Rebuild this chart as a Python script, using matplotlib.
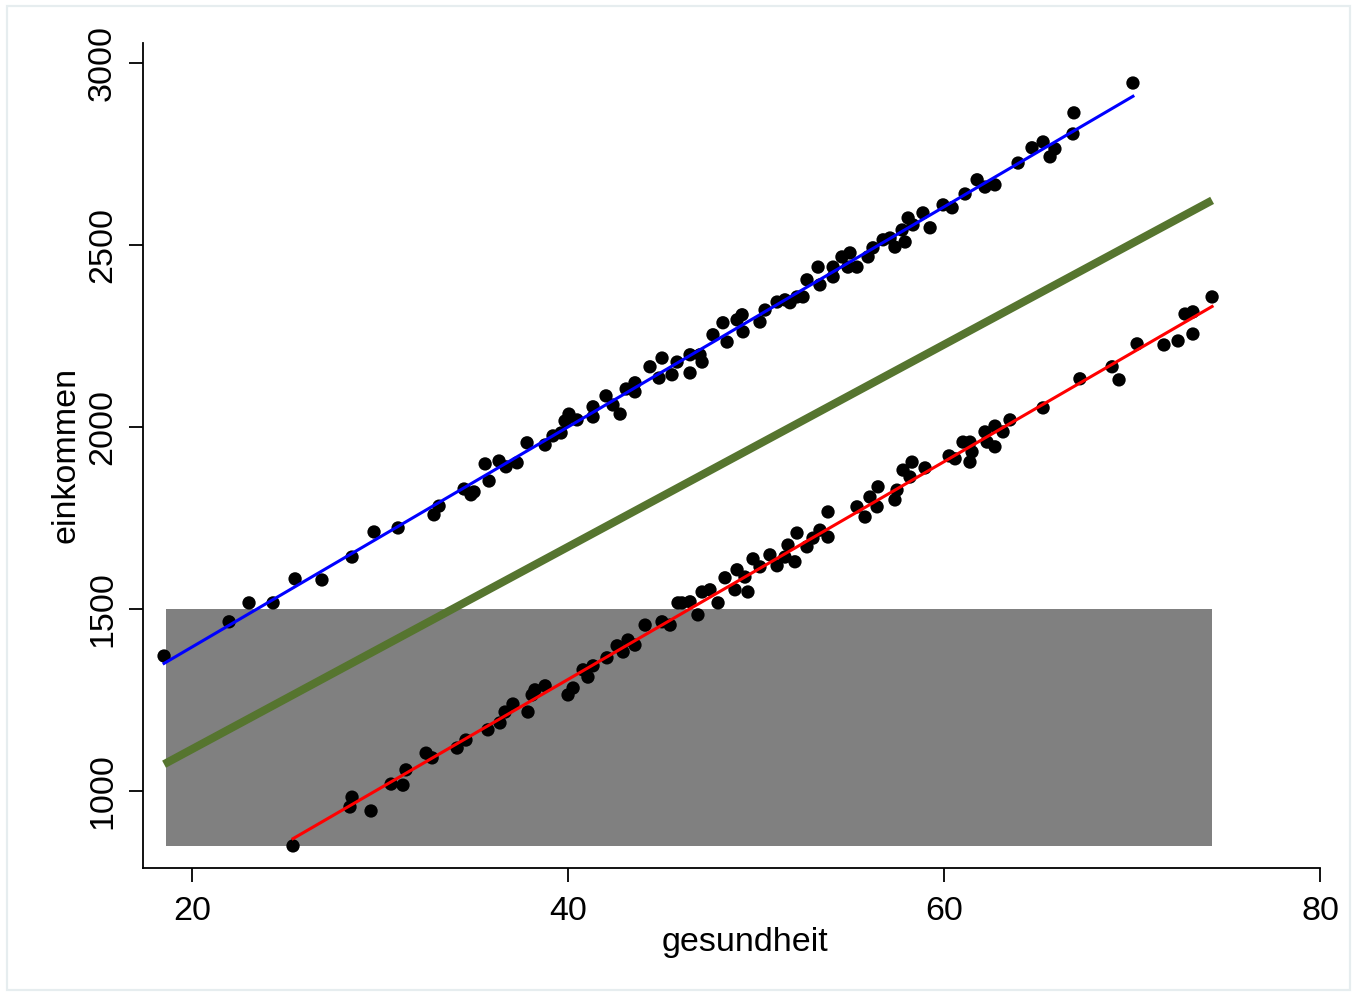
import numpy as np
import matplotlib
matplotlib.use("Agg")
import matplotlib.pyplot as plt
from matplotlib.patches import Rectangle

plt.rcParams['font.family'] = ['Liberation Sans', 'DejaVu Sans']

# group 1 (upper, blue fit)
g1_x = [18.51, 21.97, 23.03, 24.31, 25.48, 26.91, 28.51, 29.68, 30.96, 32.87,
        33.14, 34.47, 34.84, 35.00, 35.80, 35.59, 36.33, 36.70, 37.29, 37.82,
        38.78, 39.20, 39.63, 39.84, 40.05, 40.48, 41.33, 41.33, 42.02, 42.39,
        42.77, 43.09, 43.56, 43.56, 44.36, 45.00, 44.84, 45.53, 45.80, 46.49,
        46.49, 47.02, 47.13, 47.71, 48.24, 48.46, 48.99, 49.26, 49.31, 50.21,
        50.48, 51.12, 51.81, 52.18, 51.54, 52.50, 52.71, 53.40, 53.30, 54.10,
        54.10, 54.57, 55.00, 54.89, 55.37, 55.96, 56.22, 56.76, 57.13, 57.39,
        57.93, 57.77, 58.09, 58.35, 58.88, 59.26, 59.95, 60.43, 61.12, 61.76,
        62.18, 62.71, 63.94, 64.68, 65.27, 65.64, 65.90, 66.86, 66.91, 70.05]
g1_y = [1371, 1465, 1517, 1517, 1583, 1580, 1643, 1712, 1723, 1759,
        1783, 1830, 1814, 1822, 1852, 1899, 1907, 1891, 1902, 1957,
        1951, 1976, 1984, 2017, 2036, 2020, 2056, 2028, 2086, 2061,
        2036, 2105, 2122, 2097, 2166, 2190, 2135, 2144, 2179, 2149,
        2199, 2199, 2179, 2254, 2287, 2234, 2295, 2309, 2262, 2289,
        2322, 2344, 2342, 2358, 2350, 2358, 2405, 2391, 2440, 2440,
        2413, 2468, 2479, 2440, 2440, 2468, 2493, 2515, 2520, 2495,
        2509, 2542, 2575, 2556, 2589, 2548, 2611, 2603, 2641, 2680,
        2660, 2666, 2726, 2768, 2784, 2743, 2765, 2806, 2864, 2946]

# group 2 (lower, red fit)
g2_x = [25.37, 28.51, 28.40, 29.52, 30.59, 31.22, 31.38, 32.45, 32.77, 34.10,
        34.57, 35.74, 36.38, 36.65, 37.07, 37.87, 38.09, 38.24, 38.78, 40.00,
        40.27, 40.80, 41.06, 41.33, 42.07, 42.61, 42.93, 43.19, 43.56, 44.10,
        45.00, 45.43, 45.85, 46.06, 46.49, 46.91, 47.13, 47.55, 47.98, 48.35,
        48.88, 48.99, 49.57, 49.41, 49.84, 50.21, 50.74, 51.12, 51.54, 51.70,
        52.18, 52.07, 52.71, 53.03, 53.40, 53.83, 53.83, 55.37, 55.80, 56.06,
        56.44, 56.49, 57.39, 57.50, 57.82, 58.19, 58.30, 58.99, 60.27, 60.59,
        61.01, 61.38, 61.49, 61.38, 62.18, 62.29, 62.71, 62.71, 63.14, 63.51,
        65.27, 67.23, 68.94, 69.31, 70.27, 71.70, 72.45, 72.82, 73.24, 73.24,
        74.26]
g2_y = [849, 983, 956, 945, 1019, 1016, 1058, 1104, 1091, 1118,
        1140, 1168, 1187, 1217, 1239, 1217, 1264, 1278, 1289, 1264,
        1283, 1333, 1313, 1344, 1366, 1399, 1382, 1415, 1401, 1456,
        1465, 1456, 1517, 1517, 1520, 1484, 1547, 1553, 1517, 1586,
        1553, 1608, 1547, 1588, 1638, 1616, 1649, 1619, 1643, 1676,
        1709, 1630, 1671, 1695, 1717, 1698, 1767, 1781, 1753, 1808,
        1781, 1836, 1800, 1827, 1882, 1863, 1904, 1888, 1921, 1913,
        1959, 1959, 1932, 1904, 1987, 1959, 1946, 2003, 1987, 2020,
        2053, 2133, 2166, 2130, 2229, 2226, 2237, 2311, 2317, 2256,
        2358]

# pooled regression line: einkommen = a + b * gesundheit
pooled_intercept = 559.0
pooled_slope = 27.8

box_top = 1500
x_ticks = [20, 40, 60, 80]
y_ticks = [1000, 1500, 2000, 2500, 3000]

W, H = 1357, 998
fig = plt.figure(figsize=(W / 100, H / 100), dpi=100)
fig.patch.set_facecolor('white')
fig.patches.append(Rectangle((7 / W, 8 / H), (W - 14) / W, (H - 14) / H,
                             transform=fig.transFigure, fill=False,
                             edgecolor='#e6edef', linewidth=1.6, zorder=0))

ax = fig.add_axes([143 / W, (H - 868) / H, (1320 - 143) / W, (868 - 43) / H])

all_x = np.array(g1_x + g2_x, dtype=float)
all_y = np.array(g1_y + g2_y, dtype=float)

# shaded box
ax.add_patch(Rectangle((all_x.min() + 0.1, all_y.min()), all_x.max() - all_x.min() - 0.1,
                       box_top - all_y.min(), facecolor='#808080', edgecolor='none', zorder=1))

# pooled fit
xx = np.array([all_x.min(), all_x.max()])
ax.plot(xx, pooled_intercept + pooled_slope * xx, color='#56752F', linewidth=5.8,
        solid_capstyle='butt', zorder=2)

ax.scatter(g1_x, g1_y, s=92, color='black', edgecolors='none', zorder=3)
ax.scatter(g2_x, g2_y, s=92, color='black', edgecolors='none', zorder=3)

for gx, gy, col in [(g1_x, g1_y, '#0000FF'), (g2_x, g2_y, '#FF0000')]:
    gx = np.array(gx, dtype=float)
    gy = np.array(gy, dtype=float)
    pp = np.polyfit(gx, gy, 1)
    xs = np.array([gx.min(), gx.max()])
    ax.plot(xs, np.polyval(pp, xs), color=col, linewidth=2.2, zorder=4)

ax.set_xlim(17.39, 80)
ax.set_ylim(788.3, 3056)
ax.set_xticks(x_ticks)
ax.set_yticks(y_ticks)
ax.set_xticklabels([str(t) for t in x_ticks], fontsize=24.5)
ax.set_yticklabels([str(t) for t in y_ticks], fontsize=24.5, rotation=90, va='center')

for s in ['top', 'right']:
    ax.spines[s].set_visible(False)
for s in ['left', 'bottom']:
    ax.spines[s].set_linewidth(1.3)
    ax.spines[s].set_color('black')
ax.tick_params(axis='both', direction='out', length=10, width=1.3, colors='black')
ax.tick_params(axis='x', pad=10)
ax.tick_params(axis='y', pad=8)

ax.set_xlabel('gesundheit', fontsize=24.5)
ax.set_ylabel('einkommen', fontsize=24.5)
ax.xaxis.label.set_va('center')
ax.yaxis.label.set_va('center')
ax.xaxis.set_label_coords((745 - 143) / 1177, (868 - 943) / 825)
ax.yaxis.set_label_coords((66 - 143) / 1177, (868 - 455) / 825)

fig.savefig('out.png', dpi=100)
